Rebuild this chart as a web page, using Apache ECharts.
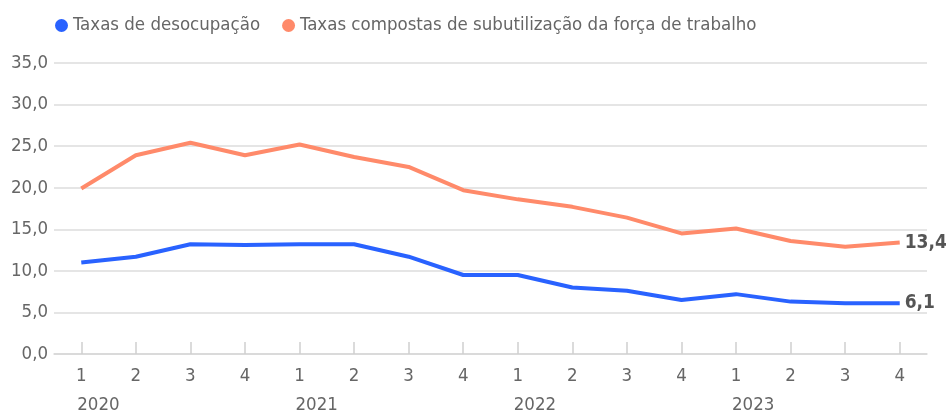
<!DOCTYPE html>
<html>
<head>
<meta charset="utf-8">
<script src="https://cdn.jsdelivr.net/npm/echarts@6/dist/echarts.min.js"></script>
<style>
  html, body { margin: 0; padding: 0; background: #fff; }
  #chart { width: 946px; height: 414px; }
</style>
</head>
<body>
<div id="chart"></div>
<script>
// trimestres 2020-2023
const quarters = ["1", "2", "3", "4", "1", "2", "3", "4", "1", "2", "3", "4", "1", "2", "3", "4"];
const years = ["2020", "", "", "", "2021", "", "", "", "2022", "", "", "", "2023", "", "", ""];
const desocupacao = [11.0, 11.7, 13.2, 13.1, 13.2, 13.2, 11.7, 9.5, 9.5, 8.0, 7.6, 6.5, 7.2, 6.3, 6.1, 6.1];
const subutilizacao = [19.9, 23.9, 25.4, 23.9, 25.2, 23.7, 22.5, 19.7, 18.6, 17.7, 16.4, 14.5, 15.1, 13.6, 12.9, 13.4];

const FONT = "'DejaVu Sans Condensed', 'Liberation Sans Narrow', sans-serif";
const fmt = (v) => Number(v).toFixed(1).replace(".", ",");

const option = {
  backgroundColor: "#fff",
  textStyle: { fontFamily: FONT },
  legend: {
    left: 50,
    top: 11,
    icon: "circle",
    itemWidth: 13,
    itemHeight: 13,
    itemGap: 22,
    textStyle: { fontSize: 18.5, color: "#666", fontFamily: FONT }
  },
  grid: { left: 54, right: 19, top: 63, bottom: 60, containLabel: false, outerBoundsMode: "none" },
  xAxis: [
    {
      type: "category",
      data: quarters,
      boundaryGap: true,
      axisLine: { lineStyle: { color: "#d6d6d6", width: 1.5 } },
      axisTick: { show: true, alignWithLabel: true, inside: true, length: 12, lineStyle: { color: "#cfcfcf", width: 1.5 } },
      axisLabel: { fontSize: 18.5, color: "#666", margin: 13, fontFamily: FONT }
    },
    {
      type: "category",
      data: years,
      position: "bottom",
      boundaryGap: true,
      axisLine: { show: false },
      axisTick: { show: false },
      axisLabel: { fontSize: 18.5, color: "#666", margin: 42, align: "left", interval: 0, padding: [0, 0, 0, -4], fontFamily: FONT }
    }
  ],
  yAxis: {
    type: "value",
    min: 0,
    max: 35,
    interval: 5,
    axisLine: { show: false },
    axisTick: { show: false },
    splitLine: { lineStyle: { color: "#ddd", width: 1.5 } },
    axisLabel: { fontSize: 18.5, color: "#666", margin: 6, formatter: fmt, fontFamily: FONT }
  },
  series: [
    {
      name: "Taxas de desocupação",
      type: "line",
      data: desocupacao,
      color: "#2962ff",
      symbol: "none",
      lineStyle: { width: 4 },
      endLabel: { show: true, formatter: (p) => fmt(p.value), fontSize: 19, fontWeight: "bold", color: "#555", distance: 5, fontFamily: FONT }
    },
    {
      name: "Taxas compostas de subutilização da força de trabalho",
      type: "line",
      data: subutilizacao,
      color: "#ff8a6a",
      symbol: "none",
      lineStyle: { width: 4 },
      endLabel: { show: true, formatter: (p) => fmt(p.value), fontSize: 19, fontWeight: "bold", color: "#555", distance: 5, fontFamily: FONT }
    }
  ]
};

const myChart = echarts.init(document.getElementById("chart"));
myChart.setOption(option);
</script>
</body>
</html>
